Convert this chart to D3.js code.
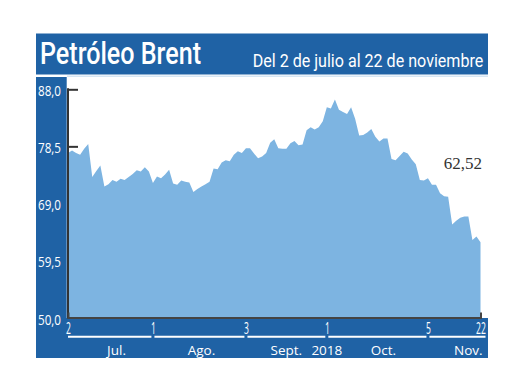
<!DOCTYPE html>
<html><head><meta charset="utf-8">
<script src="https://cdn.jsdelivr.net/npm/d3@7"></script>
<style>
html,body{margin:0;padding:0;background:#fff;}
svg{display:block;}
</style></head><body>
<svg id="chart" width="520" height="390"></svg>
<script>
// ---- data ----
const title = "Petróleo Brent";
const subtitle = "Del 2 de julio al 22 de noviembre";

const julDays   = [2,3,5,6,9,10,11,12,13,16,17,18,19,20,23,24,25,26,27,30,31];
const julValues = [77.4,77.8,77.4,77.1,78.1,78.9,73.4,74.4,75.3,71.8,72.2,72.9,72.6,73.1,72.9,73.4,73.9,74.5,74.3,75.0,74.3];
const augDays   = [1,2,3,6,7,8,9,10,13,14,15,16,17,20,21,22,23,24,27,28,29,30,31];
const augValues = [72.4,73.5,73.2,73.8,74.6,72.3,72.1,72.8,72.6,72.5,70.9,71.4,71.8,72.2,72.6,74.8,74.7,75.8,76.2,76.0,77.1,77.7,77.4];
const sepDays   = [3,4,5,6,7,10,11,12,13,14,17,18,19,20,21,24,25,26,27,28];
const sepValues = [78.2,78.2,77.3,76.5,76.8,77.4,79.1,79.7,78.2,78.1,78.1,79.0,79.4,78.7,78.8,81.2,81.7,81.3,81.7,82.7];
const octDays   = [1,2,3,4,5,8,9,10,11,12,15,16,17,18,19,22,23,24,25,26,29,30,31];
const octValues = [85.0,84.8,86.3,84.6,84.2,83.9,85.0,83.1,80.3,80.4,80.8,81.4,80.1,79.3,79.8,79.8,76.4,76.2,76.9,77.6,77.3,76.3,75.5];
const novDays   = [1,2,5,6,7,8,9,12,13,14,15,16,19,20,21,22];
const novValues = [72.9,72.8,73.2,72.1,72.1,70.7,70.2,70.1,65.5,66.1,66.6,66.8,66.8,62.9,63.5,62.52];

const yTicks = [50, 59.5, 69, 78.5, 88];
const xTickDates  = ["2018-07-02","2018-08-01","2018-09-03","2018-10-01","2018-11-05","2018-11-22"];
const xTickLabels = ["2","1","3","1","5","22"];
const monthLabels     = ["Jul.","Ago.","Sept.","2018","Oct.","Nov."];
const monthLabelDates = ["2018-07-19","2018-08-17","2018-09-17","2018-10-01","2018-10-19","2018-11-19"];
const lastLabel = "62,52";

// ---- build series ----
const pad = n => String(n).padStart(2,"0");
const months = [["07",julDays,julValues],["08",augDays,augValues],["09",sepDays,sepValues],["10",octDays,octValues],["11",novDays,novValues]];
const data = [];
months.forEach(([m,ds,vs]) => ds.forEach((d,i) => data.push({date:`2018-${m}-${pad(d)}`, value:vs[i]})));

// ---- drawing ----
const BLUE = "#1f62a5", AREA = "#7db4e1";
const SANS = "'Open Sans','Liberation Sans',sans-serif";
const svg = d3.select("#chart");

const x = d3.scalePoint().domain(data.map(d => d.date)).range([68, 480.5]);
const y = d3.scaleLinear().domain([50, 88]).range([317.5, 89.3]);

// frames
svg.append("rect").attr("x",36).attr("y",33.5).attr("width",452).attr("height",41).attr("fill",BLUE);
svg.append("rect").attr("x",36).attr("y",77).attr("width",30.7).attr("height",281).attr("fill",BLUE);
svg.append("rect").attr("x",36).attr("y",318).attr("width",452).attr("height",40).attr("fill",BLUE);
svg.append("line").attr("x1",67).attr("x2",488).attr("y1",76.3).attr("y2",76.3)
  .attr("stroke","#d5e5f3").attr("stroke-width",1.5);

// title
svg.append("text").attr("x",40).attr("y",64.3).text(title)
  .attr("fill","#fff").attr("font-family","Roboto,'Liberation Sans',sans-serif").attr("font-size",31).attr("font-weight",500)
  .attr("textLength",161).attr("lengthAdjust","spacingAndGlyphs");
svg.append("text").attr("x",252.7).attr("y",66.7).text(subtitle)
  .attr("fill","#fff").attr("font-family","Roboto,'Liberation Sans',sans-serif").attr("font-size",18)
  .attr("textLength",230.6).attr("lengthAdjust","spacingAndGlyphs");

// y axis
const fmt = d3.formatLocale({decimal:",",thousands:".",grouping:[3],currency:["",""]}).format(".1f");
const gy = svg.append("g").attr("transform","translate(68,0)")
  .call(d3.axisLeft(y).tickValues(yTicks).tickFormat(fmt).tickSizeInner(-10).tickSizeOuter(0).tickPadding(7));
gy.select(".domain").remove();
gy.selectAll(".tick line").attr("stroke","#333").attr("stroke-width",2);
gy.selectAll(".tick text").attr("fill","#fff").attr("font-family",SANS).attr("font-size",14.5).attr("dy","0.45em")
  .attr("textLength",23).attr("lengthAdjust","spacingAndGlyphs");

// area
const area = d3.area().x(d => x(d.date)).y0(y(50)).y1(d => y(d.value));
svg.append("path").datum(data).attr("d",area).attr("fill",AREA);

// spines
svg.append("line").attr("x1",68).attr("x2",68).attr("y1",y(88)-1).attr("y2",y(50)+1)
  .attr("stroke","#333").attr("stroke-width",2);
const gx = svg.append("g").attr("transform",`translate(0,${y(50)})`)
  .call(d3.axisBottom(x).tickValues([]).tickSizeOuter(-5));
gx.select(".domain").attr("stroke","#444").attr("stroke-width",2);

// x tick labels
const gxl = svg.append("g").attr("transform",`translate(0,${y(50)})`)
  .call(d3.axisBottom(x).tickValues(xTickDates).tickFormat((d,i) => xTickLabels[i]).tickSize(0));
gxl.select(".domain").remove();
gxl.selectAll(".tick text").attr("fill","#fff").attr("font-family",SANS).attr("font-size",16.5)
  .attr("y",16.8).attr("dy",0).attr("transform","scale(0.52,1)");

// month separator line
const bounds = xTickDates.slice(1,5).map(d => x(d));
const starts = [x(xTickDates[0])].concat(bounds.map(b => b + 1.5));
const ends = bounds.map(b => b - 1.5).concat([x(xTickDates[5]) + 5]);
svg.append("g").selectAll("line").data(starts).join("line")
  .attr("x1",d => d).attr("x2",(d,i) => ends[i]).attr("y1",336.7).attr("y2",336.7)
  .attr("stroke","#fff").attr("stroke-width",2);

// month labels
svg.append("g").selectAll("text").data(monthLabels).join("text")
  .attr("x",(d,i) => x(monthLabelDates[i])).attr("y",354.5).attr("text-anchor","middle")
  .attr("fill","#fff").attr("font-family",SANS).attr("font-size",13.5)
  .text(d => d);

// last value label
const last = data[data.length-1];
svg.append("text").attr("x",x(last.date)+1.5).attr("y",169.3).attr("text-anchor","end")
  .attr("fill","#333").attr("font-family","'Liberation Serif','DejaVu Serif',serif").attr("font-size",17)
  .text(lastLabel);
</script>
</body></html>
